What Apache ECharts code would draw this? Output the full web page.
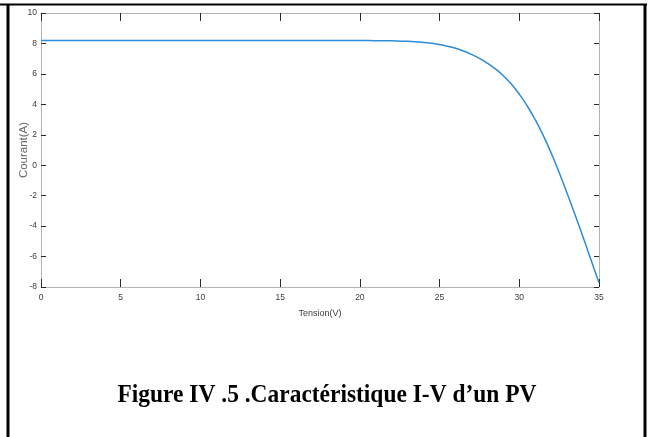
<!DOCTYPE html>
<html>
<head>
<meta charset="utf-8">
<script src="https://cdn.jsdelivr.net/npm/echarts@6/dist/echarts.min.js"></script>
<style>
    html, body { margin: 0; padding: 0; background: #fff; }
    #chart { width: 653px; height: 437px; }
</style>
</head>
<body>
<div id="chart"></div>
<script>
// tension (V) et courant (A)
var tension = [0, 4, 8, 12, 16, 18, 20, 21, 22, 23, 24, 24.5, 25, 25.5, 26, 26.5, 27, 27.5, 28, 28.5, 29, 29.5, 30, 30.5, 31, 31.5, 32, 32.5, 33, 33.5, 34, 34.5, 35];
var courant = [8.2, 8.2, 8.2, 8.2, 8.2, 8.195, 8.19, 8.185, 8.17, 8.14, 8.07, 8.01, 7.93, 7.82, 7.68, 7.5, 7.28, 7.02, 6.7, 6.33, 5.88, 5.33, 4.67, 3.89, 2.99, 1.96, 0.8, -0.48, -1.84, -3.26, -4.72, -6.22, -7.72];

var xTicks = [0, 5, 10, 15, 20, 25, 30, 35];
var yTicks = [-8, -6, -4, -2, 0, 2, 4, 6, 8, 10];

var titre = 'Figure IV .5 .Caractéristique I-V d\u2019un PV';

var chart = echarts.init(document.getElementById('chart'));

var points = tension.map(function (v, i) { return [v, courant[i]]; });

var labelFont = {
    color: '#3c3c3c',
    fontSize: 8.5,
    fontFamily: '"Liberation Sans Narrow", "Arial Narrow", "Liberation Sans", sans-serif'
};

// axe MATLAB : boite grise, graduations sombres vers l'interieur
function boxAxis(extra) {
    var base = {
        type: 'value',
        axisLine: { show: true, onZero: false, lineStyle: { color: '#b4b4b4', width: 1 } },
        splitLine: { show: false }
    };
    for (var k in extra) { base[k] = extra[k]; }
    return base;
}

function ticks(len) {
    return { show: true, inside: true, length: len, lineStyle: { color: '#2a2a2a', width: 1 } };
}

var xMin = xTicks[0], xMax = xTicks[xTicks.length - 1];
var yMin = yTicks[0], yMax = yTicks[yTicks.length - 1];

var opt = {
    animation: false,
    backgroundColor: '#fff',
    grid: { left: 41, right: 54, top: 13, bottom: 150, containLabel: false, outerBoundsMode: 'none' },
    xAxis: [
        boxAxis({
            position: 'bottom', min: xMin, max: xMax, interval: 5,
            name: 'Tension(V)', nameLocation: 'middle', nameGap: 22,
            nameTextStyle: { color: labelFont.color, fontSize: 9, fontFamily: labelFont.fontFamily },
            axisTick: ticks(8),
            axisLabel: { margin: 6, color: labelFont.color, fontSize: labelFont.fontSize, fontFamily: labelFont.fontFamily }
        }),
        boxAxis({
            position: 'top', min: xMin, max: xMax, interval: 5,
            axisTick: ticks(8),
            axisLabel: { show: false }
        })
    ],
    yAxis: [
        boxAxis({
            position: 'left', min: yMin, max: yMax, interval: 2,
            name: 'Courant(A)', nameLocation: 'middle', nameGap: 11, nameMoveOverlap: false,
            nameTextStyle: { color: '#666', fontSize: 11.5, fontFamily: '"Liberation Sans", sans-serif' },
            axisTick: ticks(5),
            axisLabel: { margin: 4, color: labelFont.color, fontSize: labelFont.fontSize, fontFamily: labelFont.fontFamily }
        }),
        boxAxis({
            position: 'right', min: yMin, max: yMax, interval: 2,
            axisTick: ticks(5),
            axisLabel: { show: false }
        })
    ],
    series: [{
        type: 'line',
        data: points,
        smooth: true,
        showSymbol: false,
        lineStyle: { color: '#2e8bd5', width: 1.5 },
        z: 5
    }],
    graphic: [
        // cadre du tableau (document)
        { type: 'line', shape: { x1: 0, y1: 4.5, x2: 647, y2: 4.5 }, style: { stroke: '#000', lineWidth: 2 } },
        { type: 'line', shape: { x1: 8, y1: 4, x2: 8, y2: 437 }, style: { stroke: '#000', lineWidth: 3 } },
        { type: 'line', shape: { x1: 645, y1: 4, x2: 645, y2: 437 }, style: { stroke: '#000', lineWidth: 3 } },
        {
            type: 'text', x: 327, y: 382, scaleX: 0.977, scaleY: 1.09,
            style: {
                text: titre,
                x: 0, y: 0,
                align: 'center', verticalAlign: 'top',
                fill: '#000',
                font: 'bold 24px "Liberation Serif", "Times New Roman", serif'
            }
        }
    ]
};

chart.setOption(opt);
</script>
</body>
</html>
